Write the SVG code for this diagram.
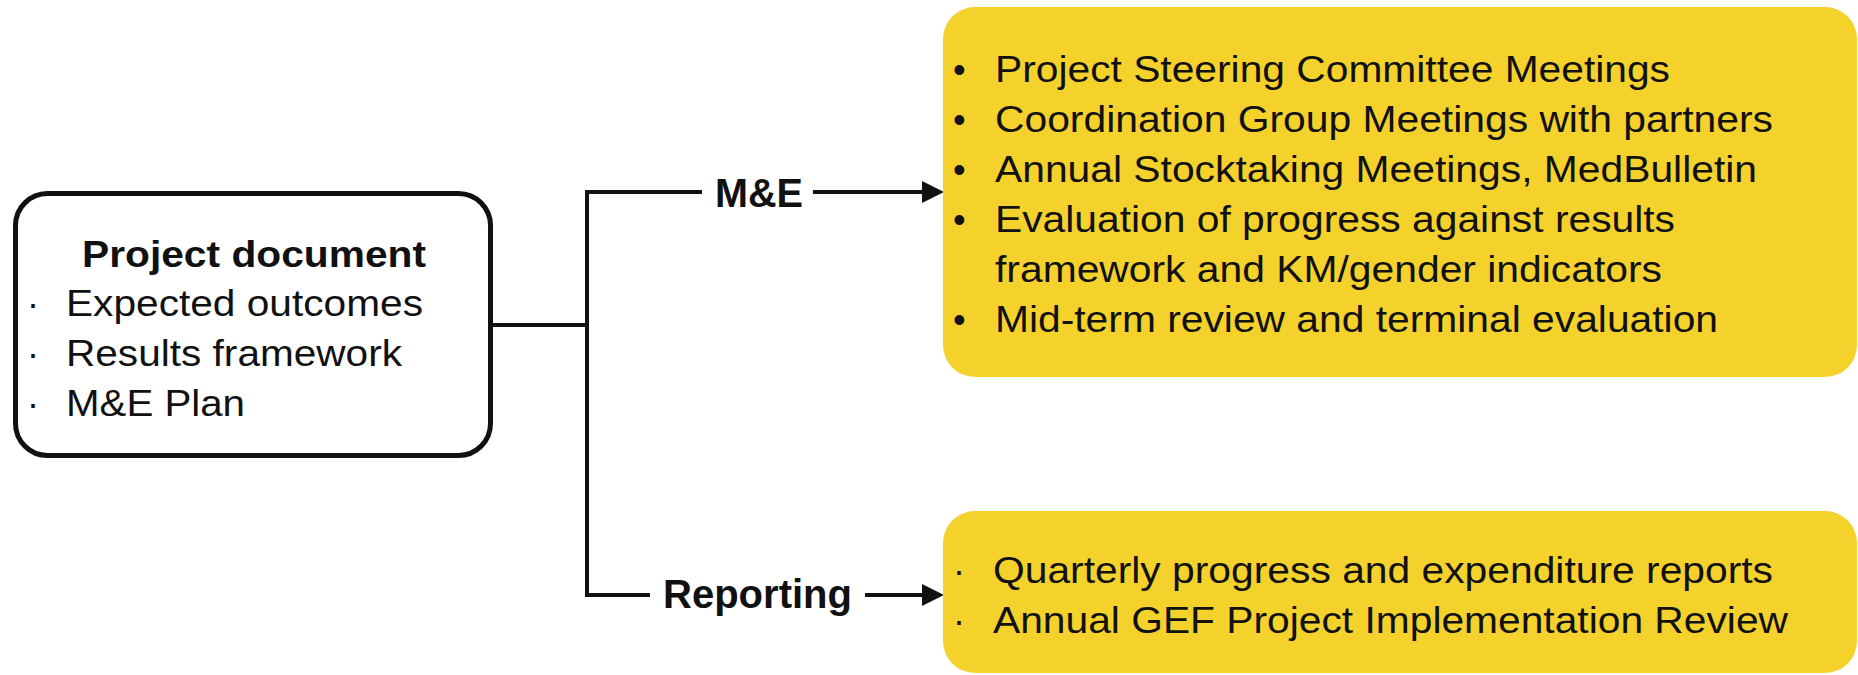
<svg xmlns="http://www.w3.org/2000/svg" width="1858" height="675" viewBox="0 0 1858 675">
<style>
.t{font-family:"Liberation Sans",Arial,sans-serif;font-size:36px;fill:#111}
.b{font-weight:bold}
.lbl{font-family:"Liberation Sans",Arial,sans-serif;font-size:40px;font-weight:bold;fill:#111}
.conn{fill:none;stroke:#111;stroke-width:4}
.yel{fill:#F5D22B}
</style>
<defs>
<marker id="arr" markerUnits="userSpaceOnUse" markerWidth="22" markerHeight="22" refX="10" refY="11" orient="auto">
<path d="M0,0 L22,11 L0,22 z" fill="#111"/>
</marker>
</defs>
<rect width="1858" height="675" fill="#fff"/>
<g id="connectors">
<path class="conn" d="M493,325 H587"/>
<path class="conn" d="M702,192 H587 V595 H650"/>
<path class="conn" d="M813,192 H932" marker-end="url(#arr)"/>
<path class="conn" d="M865,595 H932" marker-end="url(#arr)"/>
<text class="lbl" x="715" y="207" textLength="88" lengthAdjust="spacingAndGlyphs">M&amp;E</text>
<text class="lbl" x="663" y="608" textLength="189" lengthAdjust="spacingAndGlyphs">Reporting</text>
</g>
<g id="project-document">
<rect x="15.5" y="193.5" width="475" height="262" rx="32" fill="#fff" stroke="#111" stroke-width="5"/>
<text class="t b" x="82" y="267" textLength="344" lengthAdjust="spacingAndGlyphs">Project document</text>
<text class="t" x="27" y="316">·</text>
<text class="t" x="66" y="316" textLength="357" lengthAdjust="spacingAndGlyphs">Expected outcomes</text>
<text class="t" x="27" y="366">·</text>
<text class="t" x="66" y="366" textLength="336" lengthAdjust="spacingAndGlyphs">Results framework</text>
<text class="t" x="27" y="416">·</text>
<text class="t" x="66" y="416" textLength="179" lengthAdjust="spacingAndGlyphs">M&amp;E Plan</text>
</g>
<g id="me-activities">
<rect class="yel" x="943" y="7" width="914" height="370" rx="32"/>
<text class="t" x="953" y="82">•</text>
<text class="t" x="995" y="82" textLength="675" lengthAdjust="spacingAndGlyphs">Project Steering Committee Meetings</text>
<text class="t" x="953" y="132">•</text>
<text class="t" x="995" y="132" textLength="778" lengthAdjust="spacingAndGlyphs">Coordination Group Meetings with partners</text>
<text class="t" x="953" y="182">•</text>
<text class="t" x="995" y="182" textLength="762" lengthAdjust="spacingAndGlyphs">Annual Stocktaking Meetings, MedBulletin</text>
<text class="t" x="953" y="232">•</text>
<text class="t" x="995" y="232" textLength="680" lengthAdjust="spacingAndGlyphs">Evaluation of progress against results</text>
<text class="t" x="995" y="282" textLength="667" lengthAdjust="spacingAndGlyphs">framework and KM/gender indicators</text>
<text class="t" x="953" y="332">•</text>
<text class="t" x="995" y="332" textLength="723" lengthAdjust="spacingAndGlyphs">Mid-term review and terminal evaluation</text>
</g>
<g id="reporting-activities">
<rect class="yel" x="943" y="511" width="914" height="162" rx="32"/>
<text class="t" x="953" y="583">·</text>
<text class="t" x="993" y="583" textLength="780" lengthAdjust="spacingAndGlyphs">Quarterly progress and expenditure reports</text>
<text class="t" x="953" y="633">·</text>
<text class="t" x="993" y="633" textLength="795" lengthAdjust="spacingAndGlyphs">Annual GEF Project Implementation Review</text>
</g>
</svg>
